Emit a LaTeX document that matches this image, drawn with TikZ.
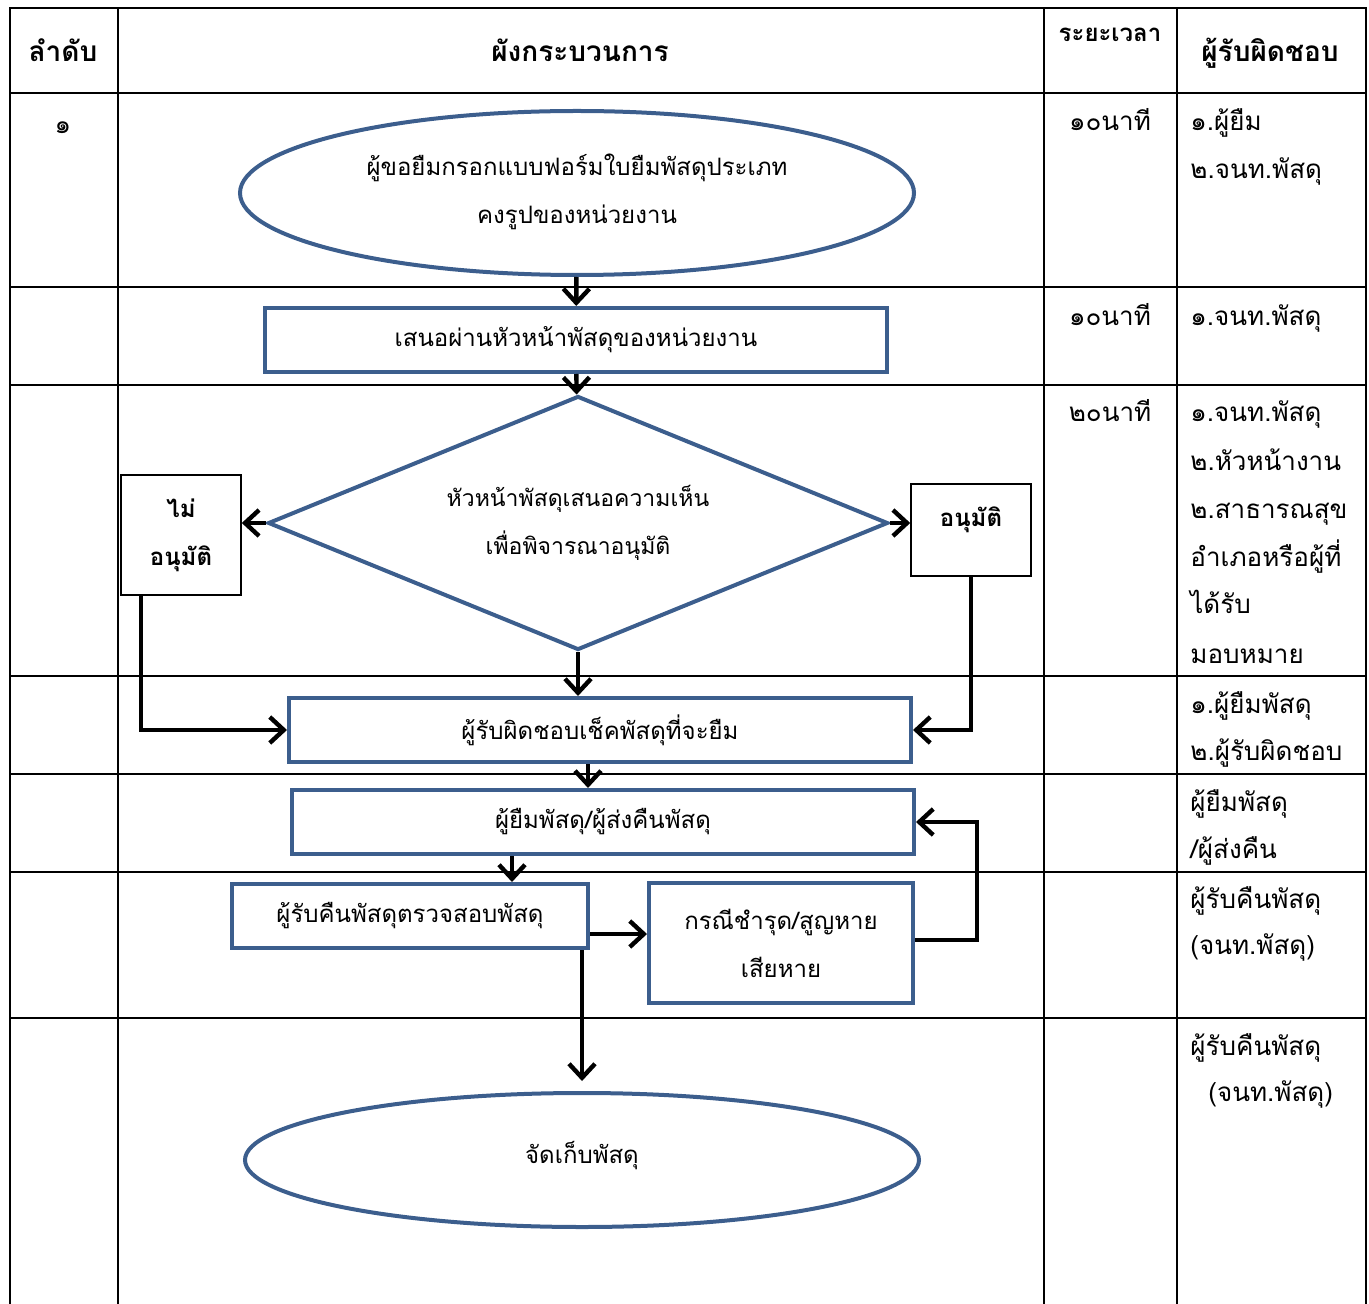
\documentclass[tikz,border=0pt]{standalone}
\usepackage{fontspec}
\usetikzlibrary{shapes.geometric, arrows.meta}
\newfontfamily\thaifont[Script=Thai]{Loma}
\definecolor{garisbiru}{HTML}{3C5E8D}
\tikzstyle{terminal} = [ellipse, draw=garisbiru, line width=2pt, inner sep=0pt, align=center, font=\thaifont\fontsize{12}{24}\selectfont]
\tikzstyle{proses} = [rectangle, draw=garisbiru, line width=2pt, inner sep=0pt, align=center, font=\thaifont\fontsize{12}{24}\selectfont]
\tikzstyle{keputusan} = [diamond, shape aspect=2.4, draw=garisbiru, line width=2pt, inner sep=0pt, align=center, font=\thaifont\fontsize{11.5}{24}\selectfont]
\tikzstyle{hasil} = [rectangle, draw=black, line width=0.8pt, inner sep=0pt, align=center, font=\thaifont\bfseries\fontsize{12}{24}\selectfont]
\tikzstyle{arrow} = [line width=2.2pt,-{Straight Barb[length=7pt,width=13pt]}]
\tikzstyle{garis} = [line width=1.2pt]
\tikzstyle{judul} = [anchor=mid, inner sep=0pt, yshift=-2pt, font=\thaifont\bfseries\fontsize{14}{16}\selectfont]
\tikzstyle{isi} = [anchor=mid west, inner sep=0pt, yshift=-2pt, font=\thaifont\fontsize{13}{16}\selectfont]
\tikzstyle{waktu} = [anchor=mid, inner sep=0pt, yshift=-2pt, font=\thaifont\fontsize{13}{16}\selectfont]

\begin{document}
\begin{tikzpicture}[x=0.5pt,y=-0.5pt]
    \useasboundingbox (0,0) rectangle (1369,1304);
    % tabel
    \draw [garis] (10,1304) -- (10,8) -- (1366,8) -- (1366,1304);
    \draw [garis] (118,8) -- (118,1304);
    \draw [garis] (1044,8) -- (1044,1304);
    \draw [garis] (1177,8) -- (1177,1304);
    \draw [garis] (10,93) -- (1366,93);
    \draw [garis] (10,287) -- (1366,287);
    \draw [garis] (10,385) -- (1366,385);
    \draw [garis] (10,676) -- (1366,676);
    \draw [garis] (10,774) -- (1366,774);
    \draw [garis] (10,872) -- (1366,872);
    \draw [garis] (10,1018) -- (1366,1018);

    % kepala tabel
    \node (h-urutan) [judul] at (63,53) {ลำดับ};
    \node (h-proses) [judul] at (580,53) {ผังกระบวนการ};
    \node (h-waktu) [judul, font=\thaifont\bfseries\fontsize{12}{16}\selectfont] at (1110,33) {ระยะเวลา};
    \node (h-tanggung) [judul] at (1270,53) {ผู้รับผิดชอบ};
    \node (no-1) [waktu] at (63,125) {๑};

    % bagan alir
    \node (mulai) [terminal, minimum width=337pt, minimum height=82pt, text depth=4pt] at (577,193) {ผู้ขอยืมกรอกแบบฟอร์มใบยืมพัสดุประเภท\\คงรูปของหน่วยงาน};
    \node (usul) [proses, minimum width=311pt, minimum height=32pt] at (576,340) {เสนอผ่านหัวหน้าพัสดุของหน่วยงาน};
    \node (pertimbang) [keputusan, minimum width=310pt, minimum height=127pt] at (578,523) {หัวหน้าพัสดุเสนอความเห็น\\เพื่อพิจารณาอนุมัติ};
    \node (tolak) [hasil, minimum width=60pt, minimum height=60pt] at (181,535) {ไม่\\อนุมัติ};
    \node (setuju) [hasil, minimum width=60pt, minimum height=46pt, text depth=13pt] at (971,530) {อนุมัติ};
    \node (cek) [proses, minimum width=311pt, minimum height=32pt] at (600,730) {ผู้รับผิดชอบเช็คพัสดุที่จะยืม};
    \node (serah) [proses, minimum width=311pt, minimum height=32pt] at (603,822) {ผู้ยืมพัสดุ/ผู้ส่งคืนพัสดุ};
    \node (periksa) [proses, minimum width=178pt, minimum height=32pt] at (410,916) {ผู้รับคืนพัสดุตรวจสอบพัสดุ};
    \node (rusak) [proses, minimum width=132pt, minimum height=60pt] at (781,943) {กรณีชำรุด/สูญหาย\\เสียหาย};
    \node (simpan) [terminal, minimum width=337pt, minimum height=67pt, text depth=8pt] at (582,1160) {จัดเก็บพัสดุ};

    \coordinate (kiri) at (141,0);
    \coordinate (tengah-a) at (588,0);
    \coordinate (tengah-b) at (512,0);
    \coordinate (kanan) at (0,934);
    \coordinate (balik) at (977,940);

    \draw [arrow] (mulai) -- (usul);
    \draw [arrow] (usul) -- (pertimbang);
    \draw [arrow] (pertimbang.west) -- (pertimbang.west -| tolak.east);
    \draw [arrow] (pertimbang.east) -- (pertimbang.east -| setuju.west);
    \draw [arrow] (pertimbang.south) -- (pertimbang.south |- cek.north);
    \draw [arrow] (tolak.south -| kiri) |- (cek.west);
    \draw [arrow] (setuju.south) |- (cek.east);
    \draw [arrow] (cek.south -| tengah-a) -- (serah.north -| tengah-a);
    \draw [arrow] (serah.south -| tengah-b) -- (periksa.north -| tengah-b);
    \draw [arrow] (periksa.east |- kanan) -- (rusak.west |- kanan);
    \draw [arrow] (rusak.east |- balik) -- (balik) |- (serah.east);
    \draw [arrow] (periksa.south -| simpan.north) -- ([yshift=5pt]simpan.north);

    % kolom ระยะเวลา
    \node (w-1) [waktu] at (1110,122) {๑๐นาที};
    \node (w-2) [waktu] at (1110,317) {๑๐นาที};
    \node (w-3) [waktu] at (1110,413) {๒๐นาที};

    % kolom ผู้รับผิดชอบ
    \node (t-1a) [isi] at (1190,122) {๑.ผู้ยืม};
    \node (t-1b) [isi] at (1190,170) {๒.จนท.พัสดุ};
    \node (t-2a) [isi] at (1190,317) {๑.จนท.พัสดุ};
    \node (t-3a) [isi] at (1190,413) {๑.จนท.พัสดุ};
    \node (t-3b) [isi] at (1190,462) {๒.หัวหน้างาน};
    \node (t-3c) [isi] at (1190,510) {๒.สาธารณสุข};
    \node (t-3d) [isi] at (1190,558) {อำเภอหรือผู้ที่};
    \node (t-3e) [isi] at (1190,605) {ได้รับ};
    \node (t-3f) [isi] at (1190,655) {มอบหมาย};
    \node (t-4a) [isi] at (1190,705) {๑.ผู้ยืมพัสดุ};
    \node (t-4b) [isi] at (1190,752) {๒.ผู้รับผิดชอบ};
    \node (t-5a) [isi] at (1190,803) {ผู้ยืมพัสดุ};
    \node (t-5b) [isi] at (1190,850) {/ผู้ส่งคืน};
    \node (t-6a) [isi] at (1190,900) {ผู้รับคืนพัสดุ};
    \node (t-6b) [isi] at (1190,946) {(จนท.พัสดุ)};
    \node (t-7a) [isi] at (1190,1047) {ผู้รับคืนพัสดุ};
    \node (t-7b) [isi] at (1208,1093) {(จนท.พัสดุ)};
\end{tikzpicture}
\end{document}
